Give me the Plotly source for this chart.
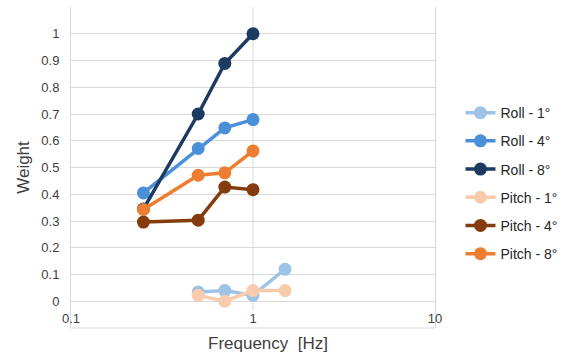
import plotly.graph_objects as go

freq = [0.25, 0.5, 0.7, 1.0]
freq_1deg = [0.5, 0.7, 1.0, 1.5]

roll_1 = [0.035, 0.04, 0.022, 0.12]
roll_4 = [0.405, 0.571, 0.648, 0.679]
roll_8 = [0.345, 0.70, 0.889, 1.0]
pitch_1 = [0.022, 0.0, 0.04, 0.04]
pitch_4 = [0.296, 0.303, 0.427, 0.417]
pitch_8 = [0.343, 0.471, 0.48, 0.562]

series = [
    ("Roll - 1°", freq_1deg, roll_1, "#9dc3e6"),
    ("Roll - 4°", freq, roll_4, "#4a90d9"),
    ("Roll - 8°", freq, roll_8, "#1c3b63"),
    ("Pitch - 1°", freq_1deg, pitch_1, "#f8cbad"),
    ("Pitch - 4°", freq, pitch_4, "#843c0c"),
    ("Pitch - 8°", freq, pitch_8, "#ed7d31"),
]

y_ticks = [0, 0.1, 0.2, 0.3, 0.4, 0.5, 0.6, 0.7, 0.8, 0.9, 1.0, 1.1]
y_ticktext = ["0", "0.1", "0.2", "0.3", "0.4", "0.5", "0.6", "0.7", "0.8", "0.9", "1", ""]
x_ticks = [0.1, 1, 10]
x_ticktext = ["0.1", "1", "10"]

GRID = "#d9d9d9"
TXT = "#404040"
FONT = "Liberation Sans, Arial, sans-serif"

fig = go.Figure()
for i, (name, xs, ys, col) in enumerate(series):
    fig.add_trace(go.Scatter(
        x=xs, y=ys, name=name, mode="lines+markers",
        line=dict(color=col, width=3.5),
        marker=dict(color=col, size=13),
        legendgroup=f"g{i}",
    ))

fig.update_layout(
    width=562, height=355,
    margin=dict(l=71, r=127, t=7, b=27, autoexpand=False),
    paper_bgcolor="white", plot_bgcolor="white",
    font=dict(family=FONT, color=TXT, size=13),
    showlegend=True,
    legend=dict(
        x=1.07, xanchor="left", y=0.45, yanchor="middle",
        font=dict(size=14, color="#262626"),
        traceorder="grouped", tracegroupgap=7,
        bgcolor="rgba(0,0,0,0)", borderwidth=0,
    ),
    xaxis=dict(
        type="log", range=[-1, 1], anchor="free", position=0.06,
        tickvals=x_ticks, ticktext=x_ticktext,
        showgrid=False, showline=False, zeroline=False, ticks="",
        tickfont=dict(size=13, color=TXT),
    ),
    yaxis=dict(
        range=[-0.1, 1.1], tickvals=y_ticks, ticktext=y_ticktext,
        showgrid=True, gridcolor=GRID, gridwidth=1, zeroline=False,
        showline=True, linecolor=GRID, linewidth=1, mirror=True,
        ticks="", ticklabelstandoff=8,
        tickfont=dict(size=13, color=TXT),
        title=dict(text="Weight", font=dict(size=17, color=TXT), standoff=7),
    ),
    annotations=[dict(
        text="Frequency&nbsp;&nbsp;[Hz]", xref="paper", yref="paper",
        x=0.54, y=-0.047, xanchor="center", yanchor="middle",
        showarrow=False, font=dict(size=17, color=TXT),
    )],
    shapes=[
        dict(type="line", xref="paper", yref="paper", x0=0, x1=1, y0=0, y1=0,
             line=dict(color=GRID, width=1), layer="below"),
        dict(type="line", xref="paper", yref="y", x0=0.5, x1=0.5, y0=-0.034, y1=1.1,
             line=dict(color=GRID, width=1), layer="below"),
    ],
)

fig.write_html("out.html")
